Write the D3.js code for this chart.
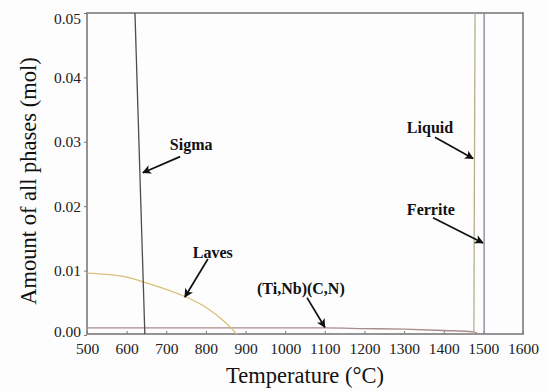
<!DOCTYPE html>
<html>
<head>
<meta charset="utf-8">
<script src="https://cdn.jsdelivr.net/npm/d3@7"></script>
<style>
  body { margin: 0; background: #fdfdfd; }
</style>
</head>
<body>
<div id="chart"></div>
<script>
// Phase curves (temperature in °C, amount in mol)
const sigma = [[621, 0.05], [646, 0]];
const laves = [[500, 0.0096], [550, 0.0094], [600, 0.0090], [650, 0.0081], [700, 0.0071],
               [750, 0.0059], [800, 0.0043], [850, 0.0019], [880, 0]];
const carbonitride = [[500, 0.0011], [800, 0.0011], [1100, 0.0011], [1200, 0.0010],
                      [1300, 0.0009], [1400, 0.0007], [1475, 0.0005], [1490, 0]];
const liquid = [[1476, 0], [1479, 0.05]];
const ferrite = [[1502, 0], [1502, 0.05]];

const xTicks = [500, 600, 700, 800, 900, 1000, 1100, 1200, 1300, 1400, 1500, 1600];
const yTicks = [0, 0.01, 0.02, 0.03, 0.04, 0.05];

// annotations: label position, arrow tail, arrow tip (data units)
const labels = [
  {text: 'Sigma', at: [709, 0.0296], from: [735, 0.0277], to: [641, 0.0252]},
  {text: 'Laves', at: [767, 0.0128], from: [805, 0.0118], to: [747, 0.0059]},
  {text: '(Ti,Nb)(C,N)', at: [929, 0.0073], from: [1055, 0.0058], to: [1100, 0.0012]},
  {text: 'Liquid', at: [1307, 0.0322], from: [1378, 0.0307], to: [1474, 0.0274]},
  {text: 'Ferrite', at: [1307, 0.0195], from: [1373, 0.0182], to: [1499, 0.0143]}
];

const serif = '"Liberation Serif", "Times New Roman", serif';
const width = 547, height = 391;
const margin = {top: 13, left: 87, right: 24, bottom: 57};
const w = width - margin.left - margin.right;
const h = height - margin.top - margin.bottom;

const svg = d3.select('#chart').append('svg')
  .attr('width', width)
  .attr('height', height)
  .style('font-family', serif);

const defs = svg.append('defs');
defs.append('marker')
  .attr('id', 'arrow')
  .attr('viewBox', '0 0 10 10')
  .attr('refX', 9).attr('refY', 5)
  .attr('markerWidth', 10).attr('markerHeight', 9)
  .attr('markerUnits', 'userSpaceOnUse')
  .attr('orient', 'auto')
  .append('path')
  .attr('d', 'M0,0 L10,5 L0,10 L2.5,5 Z')
  .attr('fill', '#111');
defs.append('clipPath').attr('id', 'clip')
  .append('rect').attr('width', w).attr('height', h);

const g = svg.append('g')
  .attr('transform', 'translate(' + margin.left + ',' + margin.top + ')');

const x = d3.scaleLinear().domain([500, 1600]).range([0, w]);
const y = d3.scaleLinear().domain([0, 0.05]).range([h + 1, 0]);

// X axis (ticks point inward)
const xAxis = g.append('g')
  .attr('transform', 'translate(0,' + h + ')')
  .call(d3.axisBottom(x).tickValues(xTicks).tickFormat(d3.format('d'))
    .tickSizeInner(-3).tickSizeOuter(0).tickPadding(9));
xAxis.select('.domain').remove();
xAxis.selectAll('line').attr('stroke', '#777');
xAxis.selectAll('text')
  .style('font-family', serif)
  .style('font-size', '15.5px')
  .attr('fill', '#222');

// Y axis
const yAxis = g.append('g')
  .call(d3.axisLeft(y).tickValues(yTicks).tickFormat(d3.format('.2f'))
    .tickSizeInner(3).tickSizeOuter(0).tickPadding(3));
yAxis.select('.domain').remove();
yAxis.selectAll('line').attr('stroke', '#777');
yAxis.selectAll('text')
  .style('font-family', serif)
  .style('font-size', '15.5px')
  .attr('fill', '#222')
  .attr('dy', d => d === 0.05 ? '0.7em' : d === 0 ? '0.1em' : '0.32em');

// frame
g.append('rect')
  .attr('width', w).attr('height', h)
  .attr('fill', 'none')
  .attr('stroke', '#7a7a7a')
  .attr('stroke-width', 1.6);

const smooth = d3.line().x(d => x(d[0])).y(d => y(d[1])).curve(d3.curveMonotoneX);
const straight = d3.line().x(d => x(d[0])).y(d => y(d[1]));
const plot = g.append('g').attr('clip-path', 'url(#clip)');

const series = [
  {data: carbonitride, color: '#a88c8c', width: 1.3, curved: true},
  {data: laves, color: '#d9bf78', width: 1.3, curved: true},
  {data: sigma, color: '#4d4d4d', width: 1.3, curved: false},
  {data: liquid, color: '#b7ae8c', width: 1.3, curved: false},
  {data: ferrite, color: '#8890a0', width: 1.4, curved: false}
];
plot.selectAll('path.series')
  .data(series)
  .enter().append('path')
  .attr('class', 'series')
  .attr('d', d => d.curved ? smooth(d.data) : straight(d.data))
  .attr('fill', 'none')
  .attr('stroke', d => d.color)
  .attr('stroke-width', d => d.width);

// annotations
g.selectAll('line.arrow')
  .data(labels)
  .enter().append('line')
  .attr('class', 'arrow')
  .attr('x1', d => x(d.from[0])).attr('y1', d => y(d.from[1]))
  .attr('x2', d => x(d.to[0])).attr('y2', d => y(d.to[1]))
  .attr('stroke', '#111')
  .attr('stroke-width', 1.7)
  .attr('marker-end', 'url(#arrow)');

g.selectAll('text.label')
  .data(labels)
  .enter().append('text')
  .attr('class', 'label')
  .attr('x', d => x(d.at[0]))
  .attr('y', d => y(d.at[1]))
  .attr('dy', '0.35em')
  .attr('font-size', 16)
  .attr('font-weight', 'bold')
  .attr('fill', '#111')
  .text(d => d.text);

// axis titles
svg.append('text')
  .attr('x', margin.left + w / 2)
  .attr('y', 383)
  .attr('text-anchor', 'middle')
  .attr('font-size', 22.5)
  .attr('fill', '#111')
  .text('Temperature (°C)');

svg.append('text')
  .attr('transform', 'translate(36,181) rotate(-90)')
  .attr('text-anchor', 'middle')
  .attr('font-size', 22.5)
  .attr('fill', '#111')
  .text('Amount of all phases (mol)');
</script>
</body>
</html>
